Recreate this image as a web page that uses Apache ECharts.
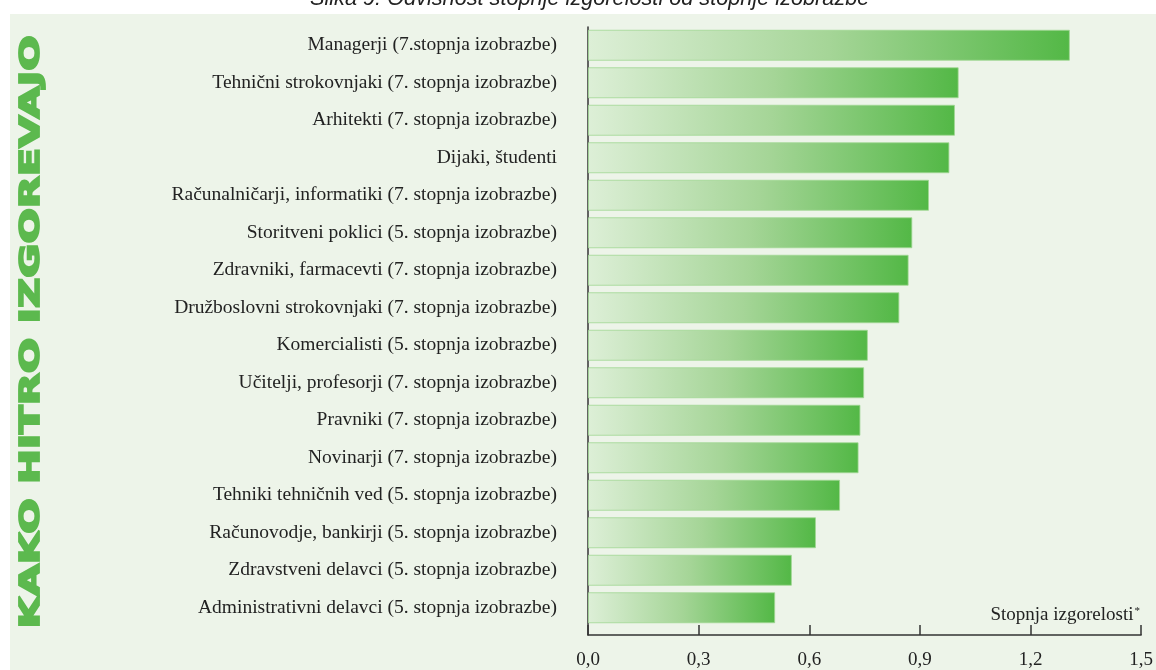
<!DOCTYPE html>
<html><head><meta charset="utf-8">
<script src="https://cdn.jsdelivr.net/npm/echarts@6/dist/echarts.min.js"></script>
<style>html,body{margin:0;padding:0;background:#fff}#c{width:1156px;height:670px}</style>
</head><body><div id="c"></div>
<script>
const categories = [
  'Managerji (7.stopnja izobrazbe)',
  'Tehnični strokovnjaki (7. stopnja izobrazbe)',
  'Arhitekti (7. stopnja izobrazbe)',
  'Dijaki, študenti',
  'Računalničarji, informatiki (7. stopnja izobrazbe)',
  'Storitveni poklici (5. stopnja izobrazbe)',
  'Zdravniki, farmacevti (7. stopnja izobrazbe)',
  'Družboslovni strokovnjaki (7. stopnja izobrazbe)',
  'Komercialisti (5. stopnja izobrazbe)',
  'Učitelji, profesorji (7. stopnja izobrazbe)',
  'Pravniki (7. stopnja izobrazbe)',
  'Novinarji (7. stopnja izobrazbe)',
  'Tehniki tehničnih ved (5. stopnja izobrazbe)',
  'Računovodje, bankirji (5. stopnja izobrazbe)',
  'Zdravstveni delavci (5. stopnja izobrazbe)',
  'Administrativni delavci (5. stopnja izobrazbe)'
];
const values = [1.30, 1.00, 0.99, 0.975, 0.92, 0.875, 0.865, 0.84, 0.755, 0.745, 0.735, 0.73, 0.68, 0.615, 0.55, 0.505];
const xTicks = [0, 0.3, 0.6, 0.9, 1.2, 1.5];
const xTickLabels = ['0,0', '0,3', '0,6', '0,9', '1,2', '1,5'];
const chartTitle = 'Slika 9: Odvisnost stopnje izgorelosti od stopnje izobrazbe';
const sideTitle = 'KAKO HITRO IZGOREVAJO';
const axisName = 'Stopnja izgorelosti';

const chart = echarts.init(document.getElementById('c'), null, {renderer: 'canvas'});
const serif = '"Liberation Serif", "DejaVu Serif", serif';
const barGrad = new echarts.graphic.LinearGradient(0, 0, 1, 0, [
  {offset: 0, color: '#ddefd7'},
  {offset: 0.5, color: '#a5d597'},
  {offset: 1, color: '#53b846'}
]);
chart.setOption({
  backgroundColor: '#ffffff',
  animation: false,
  graphic: [
    {type: 'rect', left: 10, top: 14, z: -10, shape: {width: 1146, height: 656}, style: {fill: '#edf4e9'}},
    {type: 'text', x: 32, y: 332, rotation: Math.PI / 2, scaleX: 1.6, z: 5,
      style: {text: sideTitle, fontFamily: '"DejaVu Sans", sans-serif', fontWeight: 900, fontSize: 26,
        fill: '#5cb94e', stroke: '#5cb94e', lineWidth: 1.8, align: 'center', verticalAlign: 'middle'}}
  ],
  title: [
    {text: chartTitle, left: 305, top: -17,
      textStyle: {fontFamily: '"Liberation Sans", Arial, sans-serif', fontStyle: 'italic', fontWeight: 'normal', fontSize: 21.7, color: '#222'}},
    {text: '{a|' + axisName + '}{b|*}', right: 11, top: 601,
      textStyle: {fontWeight: 'normal', rich: {
        a: {fontFamily: serif, fontSize: 19, fontWeight: 'normal', color: '#222'},
        b: {fontFamily: serif, fontSize: 11, fontWeight: 'normal', color: '#222', verticalAlign: 'top', padding: [0, 0, 7, 1]}
      }}}
  ],
  grid: [
    {left: 588, right: 12, top: 26.5, height: 600, containLabel: false},
    {left: 588, right: 12, top: 27, bottom: 30, containLabel: false}
  ],
  xAxis: [
    {type: 'value', gridIndex: 0, min: 0, max: 1.5, interval: 0.3, show: false},
    {type: 'value', gridIndex: 1, min: 0, max: 1.5, interval: 0.3,
      axisLine: {show: true, lineStyle: {color: '#333', width: 1.5}},
      axisTick: {show: true, inside: true, length: 10, lineStyle: {color: '#333', width: 1.5}},
      splitLine: {show: false},
      axisLabel: {margin: 16, fontFamily: serif, fontSize: 19, color: '#222',
        formatter: v => xTickLabels[xTicks.findIndex(t => Math.abs(t - v) < 1e-6)]}}
  ],
  yAxis: [
    {type: 'category', gridIndex: 0, data: categories, inverse: true,
      axisLine: {show: false}, axisTick: {show: false}, splitLine: {show: false},
      axisLabel: {margin: 31, fontFamily: serif, fontSize: 19.5, color: '#222', padding: [6, 0, 0, 0]}},
    {type: 'value', gridIndex: 1, min: 0, max: 1,
      axisLine: {show: true, lineStyle: {color: '#333', width: 1.5}},
      axisTick: {show: false}, axisLabel: {show: false}, splitLine: {show: false}}
  ],
  series: [{
    type: 'bar', xAxisIndex: 0, yAxisIndex: 0, data: values, barWidth: 31,
    itemStyle: {color: barGrad, borderColor: 'rgba(160,215,148,0.8)', borderWidth: 1},
    emphasis: {disabled: true}
  }]
});
</script></body></html>
